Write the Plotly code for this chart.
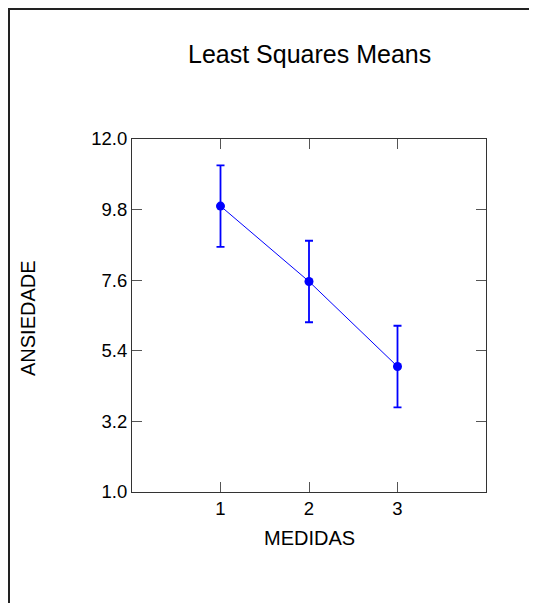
import plotly.graph_objects as go

medidas = [1, 2, 3]
ls_means = [9.91, 7.56, 4.91]
err_upper = [1.27, 1.27, 1.27]
err_lower = [1.27, 1.27, 1.27]
y_ticks = [1.0, 3.2, 5.4, 7.6, 9.8, 12.0]
x_ticks = [1, 2, 3]

# page has an 8px body margin; work in reference-screen coords and shift
OFF = 8
W, H = 537 - 2 * OFF, 611 - 2 * OFF
L, T = 132 - OFF, 139 - OFF
R = W - (486 - OFF)
B = H - (492 - OFF)
pw, ph = W - L - R, H - T - B

def px_x(p):
    return (p - OFF - L) / pw

def px_y(p):
    return 1 - (p - OFF - T) / ph

FONT = "Liberation Sans, Arial"

fig = go.Figure()
fig.add_trace(go.Scatter(
    x=medidas, y=ls_means, mode="lines+markers",
    line=dict(color="#0000FF", width=1),
    marker=dict(color="#0000FF", size=9),
    error_y=dict(type="data", symmetric=False, array=err_upper, arrayminus=err_lower,
                 color="#0000FF", thickness=1.8, width=4),
    showlegend=False, hoverinfo="x+y"))

axis_common = dict(showline=True, linecolor="#333333", linewidth=1, mirror="ticks",
                   ticks="inside", ticklen=10, tickcolor="#555555", tickwidth=1,
                   showgrid=False, zeroline=False,
                   tickfont=dict(family=FONT, size=18.5, color="#000000"))

fig.update_xaxes(range=[0, 4], tickvals=x_ticks, ticktext=[str(v) for v in x_ticks], **axis_common)
fig.update_yaxes(range=[1, 12], tickvals=y_ticks, tickformat=".1f", **axis_common)

fig.update_layout(
    width=W, height=H, margin=dict(l=L, r=R, t=T, b=B),
    paper_bgcolor="white", plot_bgcolor="white",
    font=dict(family=FONT, color="#000000"),
    shapes=[dict(type="rect", xref="paper", yref="paper",
                 x0=px_x(9), x1=px_x(700), y0=px_y(800), y1=px_y(9),
                 line=dict(color="#222222", width=2), fillcolor="rgba(0,0,0,0)", layer="below")],
    annotations=[
        dict(text="Least Squares Means", xref="paper", yref="paper",
             x=0.5, y=px_y(54), xanchor="center", yanchor="middle", showarrow=False,
             font=dict(size=25, family=FONT)),
        dict(text="MEDIDAS", xref="paper", yref="paper",
             x=0.5, y=px_y(538), xanchor="center", yanchor="middle", showarrow=False,
             font=dict(size=20, family=FONT)),
        dict(text="ANSIEDADE", xref="paper", yref="paper",
             x=px_x(28), y=px_y(318), xanchor="center", yanchor="middle", showarrow=False,
             textangle=-90, font=dict(size=20, family=FONT)),
    ],
)

fig.write_html("out.html")
